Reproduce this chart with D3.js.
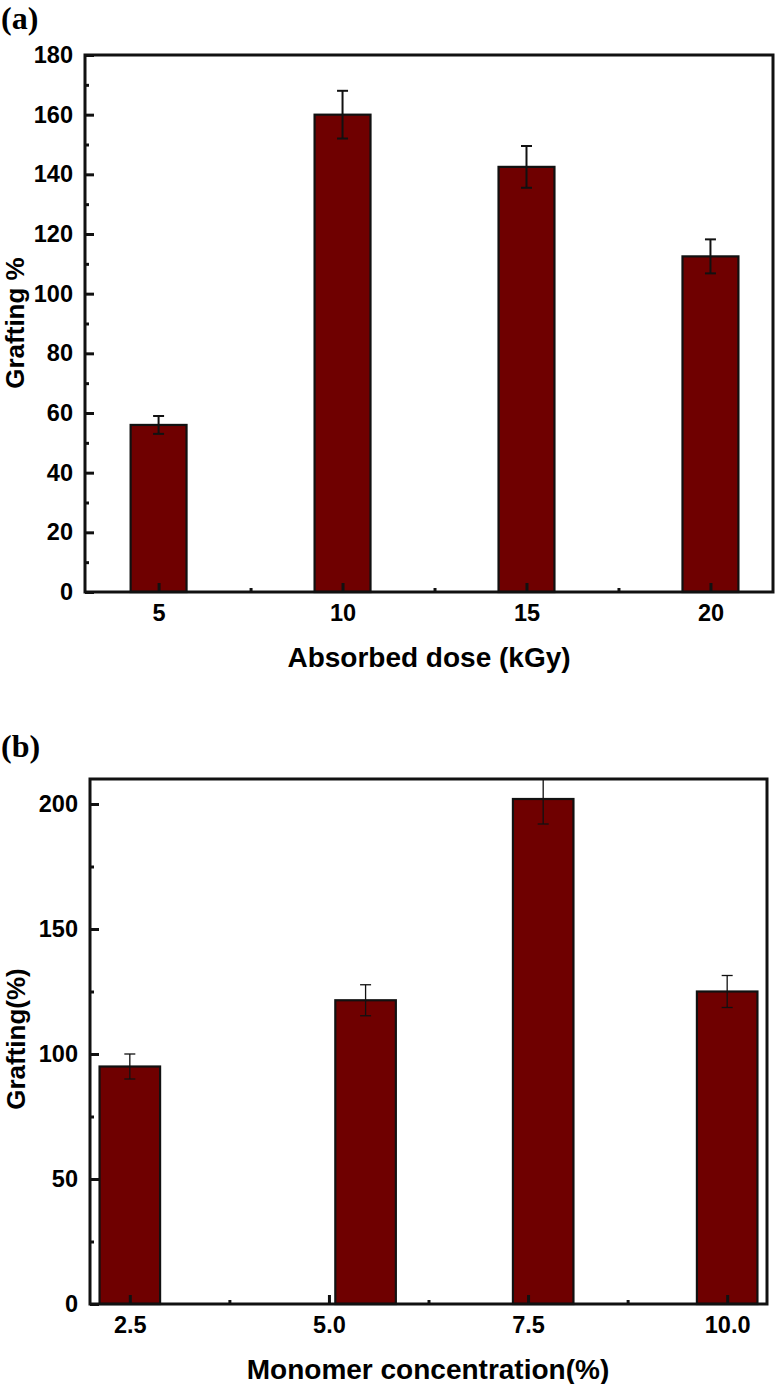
<!DOCTYPE html>
<html>
<head>
<meta charset="utf-8">
<script src="https://cdnjs.cloudflare.com/ajax/libs/d3/7.8.5/d3.min.js"></script>
<style>
  body { margin: 0; background: #fff; }
  svg { display: block; }
</style>
</head>
<body>
<svg width="776" height="1384"></svg>
<script>
// panel (a): grafting vs absorbed dose
var doseX = [5, 10, 15, 20];
var doseGraft = [56, 160, 142.5, 112.5];
var doseErr = [3, 8, 7, 5.7];
var doseXMinor = [7.5, 12.5, 17.5];
var doseYTicks = [0, 20, 40, 60, 80, 100, 120, 140, 160, 180];
var doseYMinor = [10, 30, 50, 70, 90, 110, 130, 150, 170];

// panel (b): grafting vs monomer concentration
var concTicks = [2.5, 5.0, 7.5, 10.0];
var concX = [2.5, 5.46, 7.69, 10.0];
var concGraft = [95, 121.5, 202, 125];
var concErr = [5, 6.2, 10, 6.4];
var concXMinor = [3.75, 6.25, 8.75];
var concYTicks = [0, 50, 100, 150, 200];
var concYMinor = [25, 75, 125, 175];

var svg = d3.select("svg"),
    font = "'Liberation Sans', Arial, sans-serif",
    barColor = "#6f0000";

function panel(o) {
  var x = d3.scaleLinear().domain(o.xDomain).range([o.left, o.right]);
  var y = d3.scaleLinear().domain(o.yDomain).range([o.bottom, o.top]);
  var g = svg.append("g");

  var clipId = "clip-" + o.tag.replace(/\W/g, "");
  g.append("clipPath").attr("id", clipId).append("rect")
    .attr("x", o.left).attr("y", o.top)
    .attr("width", o.right - o.left).attr("height", o.bottom - o.top);

  var data = o.xs.map(function(d, i) { return {x: d, v: o.vals[i], e: o.errs[i]}; });

  // bars
  g.append("g").selectAll("rect").data(data).enter().append("rect")
    .attr("x", function(d) { return x(d.x - o.barW / 2); })
    .attr("width", function(d) { return x(d.x + o.barW / 2) - x(d.x - o.barW / 2); })
    .attr("y", function(d) { return y(d.v); })
    .attr("height", function(d) { return y(0) - y(d.v); })
    .attr("fill", barColor).attr("stroke", "#111").attr("stroke-width", 2.2);

  // error bars
  var eb = g.append("g").attr("clip-path", "url(#" + clipId + ")")
    .attr("stroke", "#111").attr("stroke-width", o.errStroke)
    .selectAll("g").data(data).enter().append("g");
  eb.append("line")
    .attr("x1", function(d) { return x(d.x); }).attr("x2", function(d) { return x(d.x); })
    .attr("y1", function(d) { return y(d.v + d.e); }).attr("y2", function(d) { return y(d.v - d.e); });
  [1, -1].forEach(function(s) {
    eb.append("line")
      .attr("x1", function(d) { return x(d.x) - o.capW / 2; })
      .attr("x2", function(d) { return x(d.x) + o.capW / 2; })
      .attr("y1", function(d) { return y(d.v + s * d.e); })
      .attr("y2", function(d) { return y(d.v + s * d.e); });
  });

  // axes, ticks point inward
  g.append("g").attr("transform", "translate(0," + o.bottom + ")")
    .call(d3.axisBottom(x).tickValues(o.xTicks).tickFormat(o.xFmt).tickSize(-9).tickPadding(12));
  g.append("g").attr("transform", "translate(0," + o.bottom + ")")
    .call(d3.axisBottom(x).tickValues(o.xMinor).tickFormat("").tickSize(-4));
  g.append("g").attr("transform", "translate(" + o.left + ",0)")
    .call(d3.axisLeft(y).tickValues(o.yTicks).tickSize(-9).tickPadding(12));
  g.append("g").attr("transform", "translate(" + o.left + ",0)")
    .call(d3.axisLeft(y).tickValues(o.yMinor).tickFormat("").tickSize(-4));

  g.selectAll(".domain").remove();
  g.selectAll(".tick line").attr("stroke", "#111").attr("stroke-width", 3);
  g.selectAll(".tick text").attr("fill", "#000")
    .style("font-family", font).style("font-weight", "bold").style("font-size", "23.5px");

  // frame
  g.append("rect")
    .attr("x", o.left).attr("y", o.top)
    .attr("width", o.right - o.left).attr("height", o.bottom - o.top)
    .attr("fill", "none").attr("stroke", "#111").attr("stroke-width", 3);

  // titles
  g.append("text").attr("x", o.xTitlePos[0]).attr("y", o.xTitlePos[1])
    .attr("text-anchor", "middle").attr("fill", "#000")
    .style("font-family", font).style("font-weight", "bold").style("font-size", "28px")
    .text(o.xTitle);
  g.append("text")
    .attr("transform", "translate(" + o.yTitlePos[0] + "," + o.yTitlePos[1] + ") rotate(-90)")
    .attr("text-anchor", "middle").attr("fill", "#000")
    .style("font-family", font).style("font-weight", "bold").style("font-size", "26px")
    .text(o.yTitle);
  g.append("text").attr("x", o.tagPos[0]).attr("y", o.tagPos[1]).attr("fill", "#000")
    .style("font-family", "'Liberation Serif', 'Times New Roman', serif")
    .style("font-weight", "bold").style("font-size", "32px")
    .text(o.tag);
}

panel({
  left: 85, right: 773, top: 55, bottom: 592,
  xDomain: [3, 21.7], yDomain: [0, 180],
  xs: doseX, vals: doseGraft, errs: doseErr,
  xTicks: doseX, xMinor: doseXMinor, yTicks: doseYTicks, yMinor: doseYMinor,
  xFmt: d3.format("d"), barW: 1.52, capW: 11, errStroke: 2,
  xTitle: "Absorbed dose (kGy)", xTitlePos: [429, 667],
  yTitle: "Grafting %", yTitlePos: [24, 323],
  tag: "(a)", tagPos: [1, 29]
});

panel({
  left: 90, right: 767, top: 779, bottom: 1304,
  xDomain: [2, 10.5], yDomain: [0, 210],
  xs: concX, vals: concGraft, errs: concErr,
  xTicks: concTicks, xMinor: concXMinor, yTicks: concYTicks, yMinor: concYMinor,
  xFmt: d3.format(".1f"), barW: 0.76, capW: 11, errStroke: 1.3,
  xTitle: "Monomer concentration(%)", xTitlePos: [428, 1379],
  yTitle: "Grafting(%)", yTitlePos: [25, 1039],
  tag: "(b)", tagPos: [1, 757]
});
</script>
</body>
</html>
